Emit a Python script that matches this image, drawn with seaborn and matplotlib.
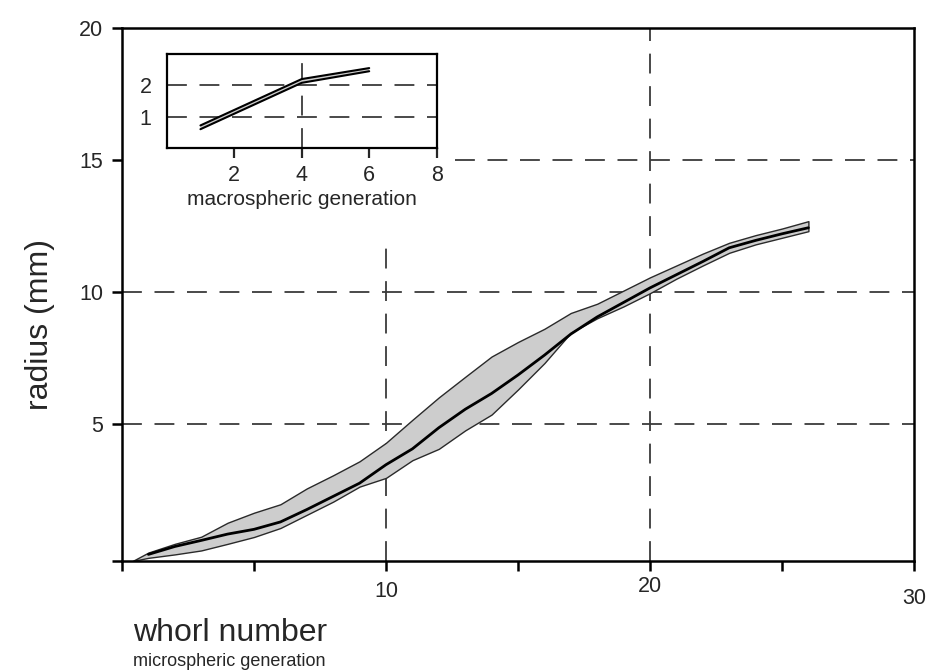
import matplotlib
matplotlib.use("Agg")
import matplotlib.pyplot as plt
import seaborn as sns
import pandas as pd
from matplotlib.transforms import ScaledTranslation

# ---------------- data ----------------
whorl = list(range(1, 27))
mean_radius = [0.05, 0.35, 0.58, 0.82, 1.00, 1.28, 1.75, 2.25, 2.75, 3.45,
               4.05, 4.85, 5.55, 6.15, 6.85, 7.60, 8.40, 9.05, 9.60, 10.15,
               10.65, 11.15, 11.67, 11.95, 12.20, 12.43]
band_whorl = [0.4] + whorl
upper_radius = [-0.2, 0.12, 0.45, 0.72, 1.25, 1.63, 1.95, 2.55, 3.05, 3.58, 4.28,
                5.15, 6.00, 6.78, 7.55, 8.10, 8.60, 9.20, 9.55, 10.05, 10.55,
                11.00, 11.45, 11.86, 12.15, 12.40, 12.68]
lower_radius = [-0.2, -0.08, 0.05, 0.20, 0.45, 0.71, 1.05, 1.55, 2.05, 2.62, 2.95,
                3.62, 4.05, 4.75, 5.35, 6.30, 7.30, 8.45, 9.00, 9.45, 9.95,
                10.50, 11.00, 11.48, 11.80, 12.05, 12.30]

macro_gen = [1, 4, 6]
macro_upper = [0.72, 2.20, 2.55]
macro_lower = [0.60, 2.08, 2.45]

x_ticks = [0, 5, 10, 15, 20, 25, 30]
x_ticklabels = ["", "", "10", "", "20", "", "30"]
y_ticks = [5, 10, 15, 20]
inset_xticks = [2, 4, 6, 8]
inset_yticks = [1, 2]

# ---------------- style ----------------
sns.set_style("ticks")
plt.rcParams["font.family"] = ["Liberation Sans", "DejaVu Sans"]

W, H = 926, 672
fig = plt.figure(figsize=(W / 100, H / 100), dpi=100)
fig.patch.set_facecolor("white")

ax = fig.add_axes([122 / W, (H - 561) / H, (914 - 122) / W, (561 - 28) / H])
ax.set_facecolor("white")
ax.set_xlim(0, 30)
ax.set_ylim(-0.2, 20)

dash = (0, (11, 7))
gcol = "#3a3a3a"
# grid lines (partially hidden by the inset in the original)
for yv in (5, 10):
    ax.axhline(yv, color=gcol, lw=1.3, ls=dash, zorder=1)
ax.axhline(15, xmin=0.42, color=gcol, lw=1.3, ls=dash, zorder=1)
ax.axvline(10, ymax=0.605, color=gcol, lw=1.3, ls=dash, zorder=1)
ax.axvline(20, color=gcol, lw=1.3, ls=dash, zorder=1)

# band + mean line
ax.fill_between(band_whorl, lower_radius, upper_radius, facecolor="#cdcdcd",
                edgecolor="#2a2a2a", lw=1.0, zorder=2)
df = pd.DataFrame({"whorl": whorl, "radius": mean_radius})
sns.lineplot(data=df, x="whorl", y="radius", ax=ax, color="black", lw=2.0,
             zorder=3, estimator=None)

ax.set_xlabel("")
ax.set_ylabel("")
for s in ax.spines.values():
    s.set_linewidth(1.8)
    s.set_color("black")
ax.set_xticks(x_ticks)
ax.set_xticklabels(x_ticklabels)
ax.set_yticks(y_ticks)
ax.set_yticks([-0.2], minor=True)
ax.tick_params(axis="both", which="both", direction="out", length=7.5, width=1.8,
               color="black", labelsize=15.5, pad=6)
ax.tick_params(axis="x", which="major", pad=7)
ax.tick_params(axis="y", which="minor", length=7.5)

# staggered x labels as in the reference
offsets = {"20": 5, "30": -7}
for lab in ax.get_xticklabels():
    t = lab.get_text()
    if t in offsets:
        lab.set_transform(lab.get_transform() +
                          ScaledTranslation(0, offsets[t] / 100, fig.dpi_scale_trans))

fig.text(40 / W, (H - 325) / H, "radius (mm)", rotation=90, fontsize=23,
         ha="center", va="center")
fig.text(133 / W, (H - 633) / H, "whorl number", fontsize=23, ha="left", va="center")
fig.text(133 / W, (H - 662) / H, "microspheric generation", fontsize=13,
         ha="left", va="center")

# ---------------- inset ----------------
ins = fig.add_axes([166.7 / W, (H - 148) / H, 270 / W, 94 / H])
ins.set_facecolor("white")
ins.set_xlim(0, 8)
ins.set_ylim(0, 3)
for yv in inset_yticks:
    ins.axhline(yv, color=gcol, lw=1.3, ls=dash, zorder=1)
ins.axvline(4, color=gcol, lw=1.3, ls=dash, zorder=1)
ins.fill_between(macro_gen, macro_lower, macro_upper, facecolor="#cdcdcd",
                 edgecolor="none", zorder=2)
mdf = pd.DataFrame({"gen": macro_gen * 2, "r": macro_upper + macro_lower,
                    "edge": ["upper"] * 3 + ["lower"] * 3})
sns.lineplot(data=mdf, x="gen", y="r", units="edge", estimator=None, ax=ins,
             color="black", lw=1.5, zorder=3)
ins.set_xlabel("macrospheric generation", fontsize=15, labelpad=3)
ins.set_ylabel("")
for s in ins.spines.values():
    s.set_linewidth(1.6)
    s.set_color("black")
ins.set_xticks(inset_xticks)
ins.set_yticks(inset_yticks)
ins.tick_params(axis="x", direction="out", length=7, width=1.6, labelsize=15.5, pad=5)
ins.tick_params(axis="y", length=0, labelsize=15.5, pad=11)

fig.savefig("out.png", dpi=100, facecolor="white")
